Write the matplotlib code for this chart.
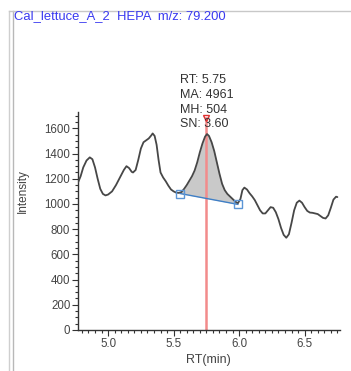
import matplotlib
matplotlib.use("Agg")
import matplotlib.pyplot as plt
from matplotlib.ticker import MultipleLocator
import numpy as np

plt.rcParams['font.family'] = ['Liberation Sans', 'DejaVu Sans']

# Chromatogram trace (RT in min, intensity)
rt = [4.77, 4.79, 4.81, 4.835, 4.86, 4.88, 4.90, 4.92, 4.94, 4.96, 4.98, 5.00, 5.03, 5.06,
      5.09, 5.12, 5.14, 5.16, 5.18, 5.19, 5.21, 5.23, 5.25, 5.27, 5.29, 5.31, 5.33, 5.34,
      5.355, 5.37, 5.385, 5.40, 5.42, 5.44, 5.46, 5.48, 5.50, 5.52, 5.54, 5.56, 5.58, 5.60,
      5.62, 5.64, 5.66, 5.68, 5.70, 5.72, 5.74, 5.755, 5.77, 5.79, 5.81, 5.83, 5.85, 5.87,
      5.89, 5.91, 5.93, 5.95, 5.97, 5.99, 6.01, 6.025, 6.04, 6.06, 6.08, 6.10, 6.12, 6.14,
      6.16, 6.18, 6.20, 6.22, 6.24, 6.26, 6.28, 6.30, 6.32, 6.34, 6.36, 6.38, 6.40, 6.42,
      6.44, 6.46, 6.48, 6.50, 6.52, 6.54, 6.56, 6.58, 6.60, 6.62, 6.64, 6.66, 6.68, 6.70,
      6.72, 6.74, 6.75]
intensity = [1170, 1220, 1290, 1345, 1370, 1355, 1290, 1200, 1120, 1080, 1068, 1075, 1100, 1150,
             1210, 1270, 1300, 1285, 1255, 1250, 1270, 1350, 1440, 1490, 1505, 1520, 1545, 1560,
             1540, 1470, 1350, 1250, 1210, 1180, 1145, 1115, 1100, 1090, 1088, 1095, 1120, 1150,
             1185, 1220, 1265, 1330, 1410, 1480, 1535, 1555, 1540, 1490, 1420, 1330, 1240, 1160,
             1110, 1080, 1060, 1040, 1020, 1005, 1040, 1110, 1130, 1115, 1085, 1060, 1030, 990,
             950, 925, 925, 950, 975, 970, 935, 880, 810, 755, 732, 760, 850, 950,
             1010, 1027, 1010, 975, 945, 932, 930, 925, 920, 905, 890, 885, 910, 970,
             1035, 1058, 1055]

# Peak integration
peak_rt = 5.75
base_rt = [5.55, 5.99]
base_int = [1083, 997]
marker_int = 1680
ann_lines = ["RT: 5.75", "MA: 4961", "MH: 504", "SN: 3.60"]
title = "Cal_lettuce_A_2  HEPA  m/z: 79.200"

xlim = (4.77, 6.77)
ylim = (0, 1730)
xticks = [5.0, 5.5, 6.0, 6.5]
yticks = [0, 200, 400, 600, 800, 1000, 1200, 1400, 1600]

W, H = 351, 371
fig = plt.figure(figsize=(W / 100, H / 100), dpi=100)
fig.patch.set_facecolor('white')

def fx(px):
    return px / W

def fy(py):
    return 1 - py / H

ax = fig.add_axes([fx(78), fy(330), fx(340) - fx(78), fy(112) - fy(330)])
ax.set_xlim(*xlim)
ax.set_ylim(*ylim)

# shaded peak area
rt_arr = np.array(rt)
int_arr = np.array(intensity)
mask = (rt_arr >= base_rt[0]) & (rt_arr <= base_rt[1])
xs = np.concatenate([[base_rt[0]], rt_arr[mask], [base_rt[1]]])
ys = np.concatenate([[np.interp(base_rt[0], rt_arr, int_arr)], int_arr[mask],
                     [np.interp(base_rt[1], rt_arr, int_arr)]])
bl = np.interp(xs, base_rt, base_int)
ax.fill_between(xs, bl, ys, color='#c9c9c9', zorder=1, linewidth=0)

ax.plot(rt, intensity, color='#474747', lw=1.3, zorder=3, solid_capstyle='round',
        solid_joinstyle='round')
ax.plot(base_rt, base_int, color='#3f7fc6', lw=1.0, zorder=4)
ax.plot(base_rt, base_int, ls='none', marker='s', ms=6, mfc='none', mec='#5b95d6', mew=1.0, zorder=5)

ax.plot([peak_rt, peak_rt], [0, marker_int], color='#f28b8b', lw=1.8, zorder=2)
ax.plot([peak_rt], [marker_int], ls='none', marker='v', ms=5, mfc='none', mec='#e03030', mew=1.0,
        zorder=6, clip_on=False)

for s in ['top', 'right']:
    ax.spines[s].set_visible(False)
for s in ['left', 'bottom']:
    ax.spines[s].set_color('#333333')
    ax.spines[s].set_linewidth(1.0)

ax.set_xticks(xticks)
ax.set_xticklabels([f"{v:.1f}" for v in xticks])
ax.set_yticks(yticks)
ax.xaxis.set_minor_locator(MultipleLocator(0.05))
ax.yaxis.set_minor_locator(MultipleLocator(50))
ax.tick_params(which='major', length=4, width=0.8, color='#333333', labelsize=8.3,
               labelcolor='#444444', pad=1.5)
ax.tick_params(which='minor', length=2.2, width=0.8, color='#333333')

fig.text(fx(208), fy(360), "RT(min)", ha='center', va='center', fontsize=9, color='#444444')
fig.text(fx(23), fy(191), "Intensity", ha='center', va='center', fontsize=8.5, color='#444444',
         rotation=90)

for i, line in enumerate(ann_lines):
    fig.text(fx(180), fy(80 + i * 14.8), line, ha='left', va='center', fontsize=9, color='#333333')

fig.text(fx(14), fy(16), title, ha='left', va='center', fontsize=9.4, color='#3a3af0')

# frame lines
fig.add_artist(plt.Line2D([fx(9), fx(9)], [fy(11), 0], color='#cfcfcf', lw=1.0))
fig.add_artist(plt.Line2D([fx(12.5), fx(12.5)], [fy(11), 0], color='#b8b8b8', lw=1.0))
fig.add_artist(plt.Line2D([fx(9), 1], [fy(11), fy(11)], color='#c8c8c8', lw=1.0))

fig.savefig("out.png", dpi=100)
